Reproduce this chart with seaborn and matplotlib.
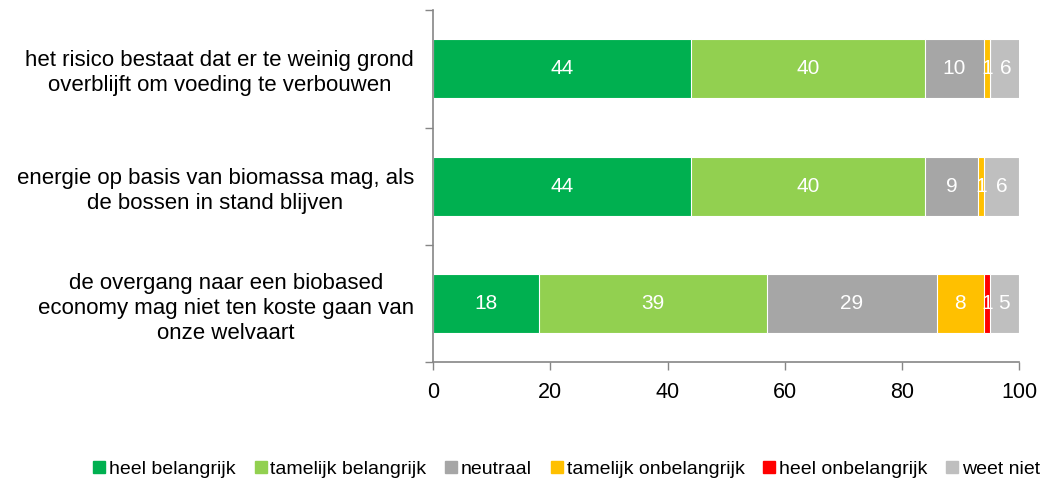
import numpy as np
import pandas as pd
import seaborn as sns
import matplotlib.pyplot as plt
from matplotlib.lines import Line2D

sns.set_style("white")
plt.rcParams["font.family"] = ["Liberation Sans", "DejaVu Sans"]
plt.rcParams["text.color"] = "black"
plt.rcParams["xtick.labelcolor"] = "black"
plt.rcParams["ytick.labelcolor"] = "black"

stellingen = [
    "het risico bestaat dat er te weinig grond\noverblijft om voeding te verbouwen",
    "energie op basis van biomassa mag, als\nde bossen in stand blijven",
    "de overgang naar een biobased\neconomy mag niet ten koste gaan van\nonze welvaart",
]
categorieen = ["heel belangrijk", "tamelijk belangrijk", "neutraal",
               "tamelijk onbelangrijk", "heel onbelangrijk", "weet niet"]
kleuren = ["#00B050", "#92D050", "#A6A6A6", "#FFC000", "#FF0000", "#BFBFBF"]

heel_belangrijk = [44, 44, 18]
tamelijk_belangrijk = [40, 40, 39]
neutraal = [10, 9, 29]
tamelijk_onbelangrijk = [1, 1, 8]
heel_onbelangrijk = [0, 0, 1]
weet_niet = [5.6, 6, 5]

waarden = np.array([heel_belangrijk, tamelijk_belangrijk, neutraal,
                    tamelijk_onbelangrijk, heel_onbelangrijk, weet_niet])
cum = waarden.cumsum(axis=0)

fig, ax = plt.subplots(figsize=(10.44, 4.83), dpi=100)
fig.subplots_adjust(left=0.415, right=0.976, top=0.979, bottom=0.25)

# stacked: draw cumulative totals from largest to smallest
for i in range(len(categorieen) - 1, -1, -1):
    df = pd.DataFrame({"stelling": stellingen, "waarde": cum[i]})
    sns.barplot(data=df, x="waarde", y="stelling", orient="h", color=kleuren[i],
                saturation=1, width=0.5, edgecolor="white", linewidth=0.8, ax=ax)

for i in range(len(categorieen)):
    for j in range(len(stellingen)):
        v = waarden[i, j]
        if v > 0:
            ax.text(cum[i, j] - v / 2, j, f"{v:.0f}", ha="center", va="center",
                    color="white", fontsize=15)

ax.set_xlim(0, 100)
ax.set_ylim(2.5, -0.5)
ax.set_xticks([0, 20, 40, 60, 80, 100])
ax.set_xlabel("")
ax.set_ylabel("")

ax.set_yticks(range(len(stellingen)))
ax.set_yticklabels(stellingen, multialignment="center", linespacing=1.25)
ax.set_yticks([-0.5, 0.5, 1.5, 2.5], minor=True)
ax.tick_params(axis="y", which="both", left=True)
ax.tick_params(axis="y", which="major", length=0, pad=14, labelsize=16)
ax.tick_params(axis="y", which="minor", length=6, color="#868686", width=1)
ax.tick_params(axis="x", bottom=True, length=6, color="#868686", width=1,
               labelsize=15.5, direction="out", pad=8)

sns.despine(ax=ax, top=True, right=True)
for s in ["left", "bottom"]:
    ax.spines[s].set_color("#868686")
    ax.spines[s].set_linewidth(1.2)

handles = [Line2D([], [], marker="s", linestyle="", color=c, markersize=8) for c in kleuren]
fig.legend(handles, categorieen, loc="lower center", ncol=6, frameon=False,
           fontsize=14, bbox_to_anchor=(0.542, -0.025), handletextpad=0.1,
           columnspacing=0.88, handlelength=0.8)

fig.savefig("out.png", dpi=100)
